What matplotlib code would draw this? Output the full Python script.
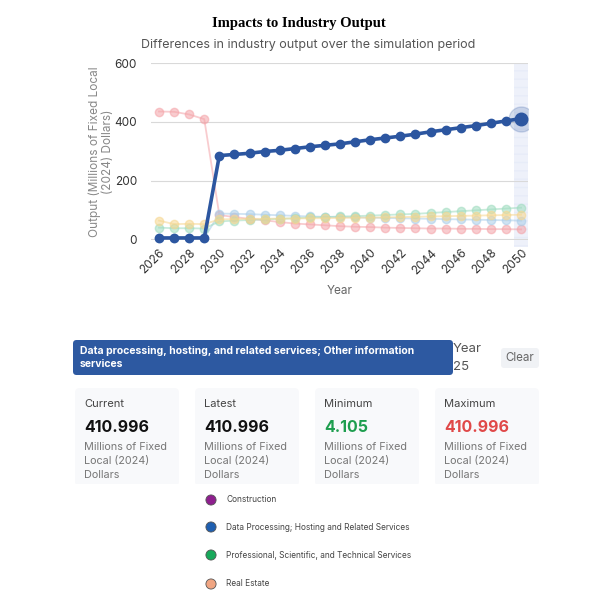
import numpy as np
import matplotlib.pyplot as plt
from matplotlib.patches import FancyBboxPatch, Rectangle, Circle

years = list(range(2026, 2051))

# highlighted series
data_processing = [5, 5, 5, 5, 285, 289, 293, 299, 303, 309, 315, 320, 325, 332,
                   339, 345, 351, 358, 366, 373, 380, 387, 395, 403, 411]
# faded series
pink_series = [435, 434, 425, 409, 83, 76, 70, 65, 59, 54, 51, 48, 45, 43,
               42, 40, 39, 38, 37, 37, 36, 36, 35, 35, 34]
lightblue_series = [5, 5, 5, 5, 88, 87, 86, 84, 82, 80, 78, 77, 76, 75,
                    74, 73, 72, 71, 70, 69, 68, 67, 66, 65, 64]
green_series = [40, 38, 38, 37, 61, 64, 66, 68, 70, 72, 75, 76, 78, 79,
                81, 83, 85, 87, 90, 93, 96, 99, 102, 105, 108]
yellow_series = [64, 52, 53, 52, 68, 69, 70, 70, 71, 71, 72, 72, 73, 74,
                 74, 75, 76, 77, 78, 79, 80, 81, 82, 83, 84]

faded = [(pink_series, '#f4a3a8'), (lightblue_series, '#a9cde9'),
         (green_series, '#9edcbf'), (yellow_series, '#f6d68e')]

cards = [("Current", "410.996", "#111111"), ("Latest", "410.996", "#111111"),
         ("Minimum", "4.105", "#1e9e4f"), ("Maximum", "410.996", "#e04848")]

legend_names = ["Construction", "Data Processing; Hosting and Related Services",
                "Professional, Scientific, and Technical Services", "Real Estate"]
legend_colors = ["#8e1f8e", "#1f5fb0", "#17a85a", "#f0a582"]

W, H = 598, 596
fig = plt.figure(figsize=(W / 100, H / 100), dpi=100)
plt.rcParams['font.family'] = ['Inter', 'DejaVu Sans']


def fx(x):
    return x / W


def fy(y):
    return 1 - y / H


ax = fig.add_axes([fx(151), fy(240), fx(528) - fx(151), fy(63) - fy(240)])

# hover band at last year
ax.axvspan(2049.5, 2050.46, ymin=-0.04, color='#e3e9f8', alpha=0.6, zorder=0, hatch='--',
           edgecolor='white', linewidth=0, clip_on=False)

for vals, c in faded:
    ax.plot(years, vals, color=c, lw=1.3, marker='o', ms=6, alpha=0.55, zorder=2,
            clip_on=False)

ax.plot(years, data_processing, color='#2c56a0', lw=2.6, marker='o', ms=6, zorder=4,
        clip_on=False)
ax.plot(years[-1], data_processing[-1], 'o', ms=18, color='#2c56a0', alpha=0.2, zorder=3)
ax.plot(years[-1], data_processing[-1], 'o', ms=9, color='#2c56a0', zorder=5)

ax.set_ylim(-2, 600)
ax.set_xlim(2025.47, 2050.46)
ax.set_yticks([0, 200, 400, 600])
ax.set_xticks(range(2026, 2051, 2))
ax.tick_params(axis='x', labelrotation=45, labelsize=8.5, length=0, colors='#333333', pad=5)
ax.tick_params(axis='y', labelsize=8.5, length=0, colors='#333333', pad=10)
for lbl in ax.get_xticklabels():
    lbl.set_ha('right')
    lbl.set_rotation_mode('anchor')
ax.grid(axis='y', color='#d9d9d9', lw=0.8)
ax.set_axisbelow(True)
for s in ax.spines.values():
    s.set_visible(False)
ax.axhline(-2, color='#cccccc', lw=0.8, zorder=1)
ax.set_xlabel('Year', color='#666666', fontsize=8.5, labelpad=6)
ax.set_ylabel('Output (Millions of Fixed Local\n(2024) Dollars)', color='#888888',
              fontsize=8.5, labelpad=0)

fig.text(0.5, fy(23), 'Impacts to Industry Output', ha='center', va='center',
         fontsize=10.5, fontweight='bold', family=['Liberation Serif', 'DejaVu Serif'])
fig.text(fx(141), fy(45), 'Differences in industry output over the simulation period',
         ha='left', va='center', fontsize=9, color='#555555')

# selected industry banner
fig.add_artist(FancyBboxPatch((fx(73), fy(375)), fx(453) - fx(73), fy(340) - fy(375),
                              boxstyle='round,pad=0,rounding_size=0.006',
                              transform=fig.transFigure, fc='#2d59a1', ec='none'))
fig.text(fx(80), fy(357.5),
         'Data processing, hosting, and related services; Other information\nservices',
         ha='left', va='center', fontsize=7.5, color='white', fontweight='bold',
         linespacing=1.3)
fig.text(fx(453), fy(349), 'Year', ha='left', va='center', fontsize=9.5, color='#555555')
fig.text(fx(453), fy(367), '25', ha='left', va='center', fontsize=9.5, color='#555555')
fig.add_artist(FancyBboxPatch((fx(501), fy(368)), fx(539) - fx(501), fy(348) - fy(368),
                              boxstyle='round,pad=0,rounding_size=0.005',
                              transform=fig.transFigure, fc='#f0f2f5', ec='none'))
fig.text(fx(520), fy(358), 'Clear', ha='center', va='center', fontsize=8.3, color='#666666')

# stat cards
card_x = [75, 195, 315, 435]
for (label, value, vcol), x0 in zip(cards, card_x):
    fig.add_artist(FancyBboxPatch((fx(x0), fy(486)), fx(104), fy(388) - fy(486),
                                  boxstyle='round,pad=0,rounding_size=0.008',
                                  transform=fig.transFigure, fc='#f8f9fb', ec='none'))
    fig.text(fx(x0 + 9), fy(404), label, ha='left', va='center', fontsize=8, color='#444444')
    fig.text(fx(x0 + 9), fy(427), value, ha='left', va='center', fontsize=11.5,
             color=vcol, fontweight='bold')
    for k, line in enumerate(['Millions of Fixed', 'Local (2024)', 'Dollars']):
        fig.text(fx(x0 + 9), fy(447 + 14 * k), line, ha='left', va='center',
                 fontsize=7.8, color='#777777')
# white cut at bottom of cards
fig.add_artist(Rectangle((0, fy(496)), 1, fy(484) - fy(496), transform=fig.transFigure,
                         fc='white', ec='none'))

# legend
leg_y = [500, 527, 555, 584]
for name, c, y in zip(legend_names, legend_colors, leg_y):
    fig.add_artist(Circle((fx(211), fy(y)), 0.0085, transform=fig.transFigure,
                          fc=c, ec='#555555', lw=0.6))
    fig.text(fx(226), fy(y), name, ha='left', va='center', fontsize=6, color='#444444')

fig.savefig('out.png', dpi=100)
